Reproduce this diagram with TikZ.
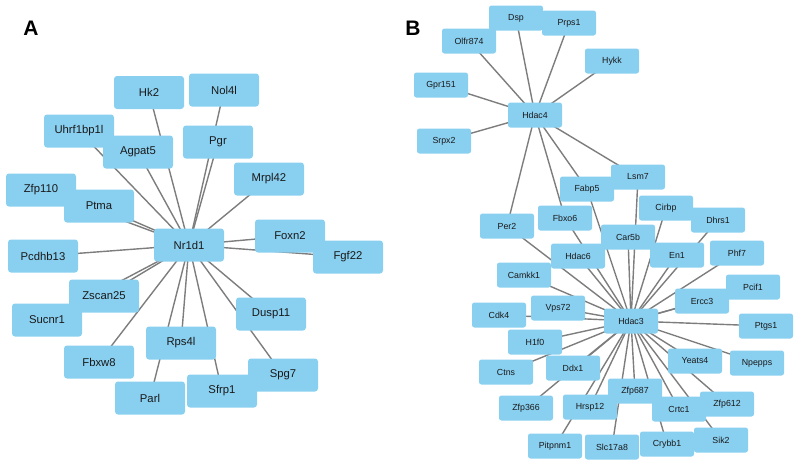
\documentclass[tikz,border=0pt]{standalone}
\usepackage{fontspec}
\setmainfont{Liberation Sans}
\usetikzlibrary{backgrounds}
\definecolor{nodeblue}{RGB}{137,207,240}
\definecolor{edgegray}{RGB}{125,125,125}
\definecolor{txt}{RGB}{25,25,25}
\tikzset{
  gA/.style={fill=nodeblue, draw=none, rounded corners=3pt, minimum width=70pt, minimum height=33pt, inner sep=0pt, text=txt, font=\fontsize{11.3}{12}\selectfont},
  gB/.style={fill=nodeblue, draw=none, rounded corners=2.5pt, minimum width=54pt, minimum height=25pt, inner sep=0pt, text=txt, font=\fontsize{8.8}{10}\selectfont},
  edge/.style={draw=edgegray, line width=1.4pt},
  panel/.style={font=\fontsize{21}{22}\selectfont\bfseries, text=black, inner sep=0pt}
}
\begin{document}
\begin{tikzpicture}[x=1pt,y=-1pt]
\useasboundingbox (0,0) rectangle (800,464);
\node[panel] (labA) at (31,28) {A};
\node[panel] (labB) at (413,28) {B};
% Panel A nodes
\node[gA] (Hk2) at (149,92.5) {Hk2};
\node[gA] (Nol4l) at (224,90) {Nol4l};
\node[gA] (Uhrf1bp1l) at (79,131) {Uhrf1bp1l};
\node[gA] (Agpat5) at (138,152) {Agpat5};
\node[gA] (Pgr) at (218,142) {Pgr};
\node[gA] (Mrpl42) at (269,179) {Mrpl42};
\node[gA] (Zfp110) at (41,190) {Zfp110};
\node[gA] (Ptma) at (99,206) {Ptma};
\node[gA] (Nr1d1) at (189,245) {Nr1d1};
\node[gA] (Foxn2) at (290,236) {Foxn2};
\node[gA] (Fgf22) at (348,257) {Fgf22};
\node[gA] (Pcdhb13) at (43,256) {Pcdhb13};
\node[gA] (Zscan25) at (104,296) {Zscan25};
\node[gA] (Sucnr1) at (47,320) {Sucnr1};
\node[gA] (Dusp11) at (271,314) {Dusp11};
\node[gA] (Rps4l) at (181,343) {Rps4l};
\node[gA] (Fbxw8) at (99,362) {Fbxw8};
\node[gA] (Spg7) at (283,375) {Spg7};
\node[gA] (Sfrp1) at (222,391) {Sfrp1};
\node[gA] (Parl) at (150,398) {Parl};
% Panel B nodes
\node[gB] (Dsp) at (516,18) {Dsp};
\node[gB] (Prps1) at (569,23) {Prps1};
\node[gB] (Olfr874) at (469,41) {Olfr874};
\node[gB] (Hykk) at (612,61) {Hykk};
\node[gB] (Gpr151) at (441,85) {Gpr151};
\node[gB] (Hdac4) at (535,115) {Hdac4};
\node[gB] (Srpx2) at (444,141) {Srpx2};
\node[gB] (Fabp5) at (587,189) {Fabp5};
\node[gB] (Lsm7) at (638,177) {Lsm7};
\node[gB] (Cirbp) at (666,208) {Cirbp};
\node[gB] (Dhrs1) at (718,220) {Dhrs1};
\node[gB] (Per2) at (507,226) {Per2};
\node[gB] (Fbxo6) at (565,218) {Fbxo6};
\node[gB] (Car5b) at (628,237) {Car5b};
\node[gB] (Hdac6) at (578,256) {Hdac6};
\node[gB] (En1) at (677,255) {En1};
\node[gB] (Phf7) at (737,253) {Phf7};
\node[gB] (Camkk1) at (524,275) {Camkk1};
\node[gB] (Pcif1) at (753,287) {Pcif1};
\node[gB] (Ercc3) at (702,301) {Ercc3};
\node[gB] (Vps72) at (558,308) {Vps72};
\node[gB] (Cdk4) at (499,315) {Cdk4};
\node[gB] (Hdac3) at (631,321) {Hdac3};
\node[gB] (Ptgs1) at (766,326) {Ptgs1};
\node[gB] (H1f0) at (535,342) {H1f0};
\node[gB] (Yeats4) at (695,361) {Yeats4};
\node[gB] (Npepps) at (757,363) {Npepps};
\node[gB] (Ctns) at (506,372) {Ctns};
\node[gB] (Ddx1) at (573,368) {Ddx1};
\node[gB] (Zfp687) at (635,391) {Zfp687};
\node[gB] (Zfp366) at (526,408) {Zfp366};
\node[gB] (Hrsp12) at (590,407) {Hrsp12};
\node[gB] (Crtc1) at (679,409) {Crtc1};
\node[gB] (Zfp612) at (727,404) {Zfp612};
\node[gB] (Pitpnm1) at (555,446) {Pitpnm1};
\node[gB] (Slc17a8) at (612,447) {Slc17a8};
\node[gB] (Crybb1) at (667,444) {Crybb1};
\node[gB] (Sik2) at (721,440) {Sik2};
\begin{scope}[on background layer]
\foreach \n in {Hk2,Nol4l,Uhrf1bp1l,Agpat5,Pgr,Mrpl42,Zfp110,Ptma,Foxn2,Fgf22,Pcdhb13,Zscan25,Sucnr1,Dusp11,Rps4l,Fbxw8,Spg7,Sfrp1,Parl}
  \draw[edge] (Nr1d1.center) -- (\n.center);
\foreach \n in {Dsp,Prps1,Olfr874,Hykk,Gpr151,Srpx2,Per2,Fbxo6,Fabp5,Lsm7}
  \draw[edge] (Hdac4.center) -- (\n.center);
\foreach \n in {Per2,Fbxo6,Fabp5,Lsm7,Cirbp,Dhrs1,Car5b,Hdac6,En1,Phf7,Camkk1,Pcif1,Ercc3,Vps72,Cdk4,Ptgs1,H1f0,Yeats4,Npepps,Ctns,Ddx1,Zfp687,Zfp366,Hrsp12,Crtc1,Zfp612,Pitpnm1,Slc17a8,Crybb1,Sik2}
  \draw[edge] (Hdac3.center) -- (\n.center);
\end{scope}
\end{tikzpicture}
\end{document}
